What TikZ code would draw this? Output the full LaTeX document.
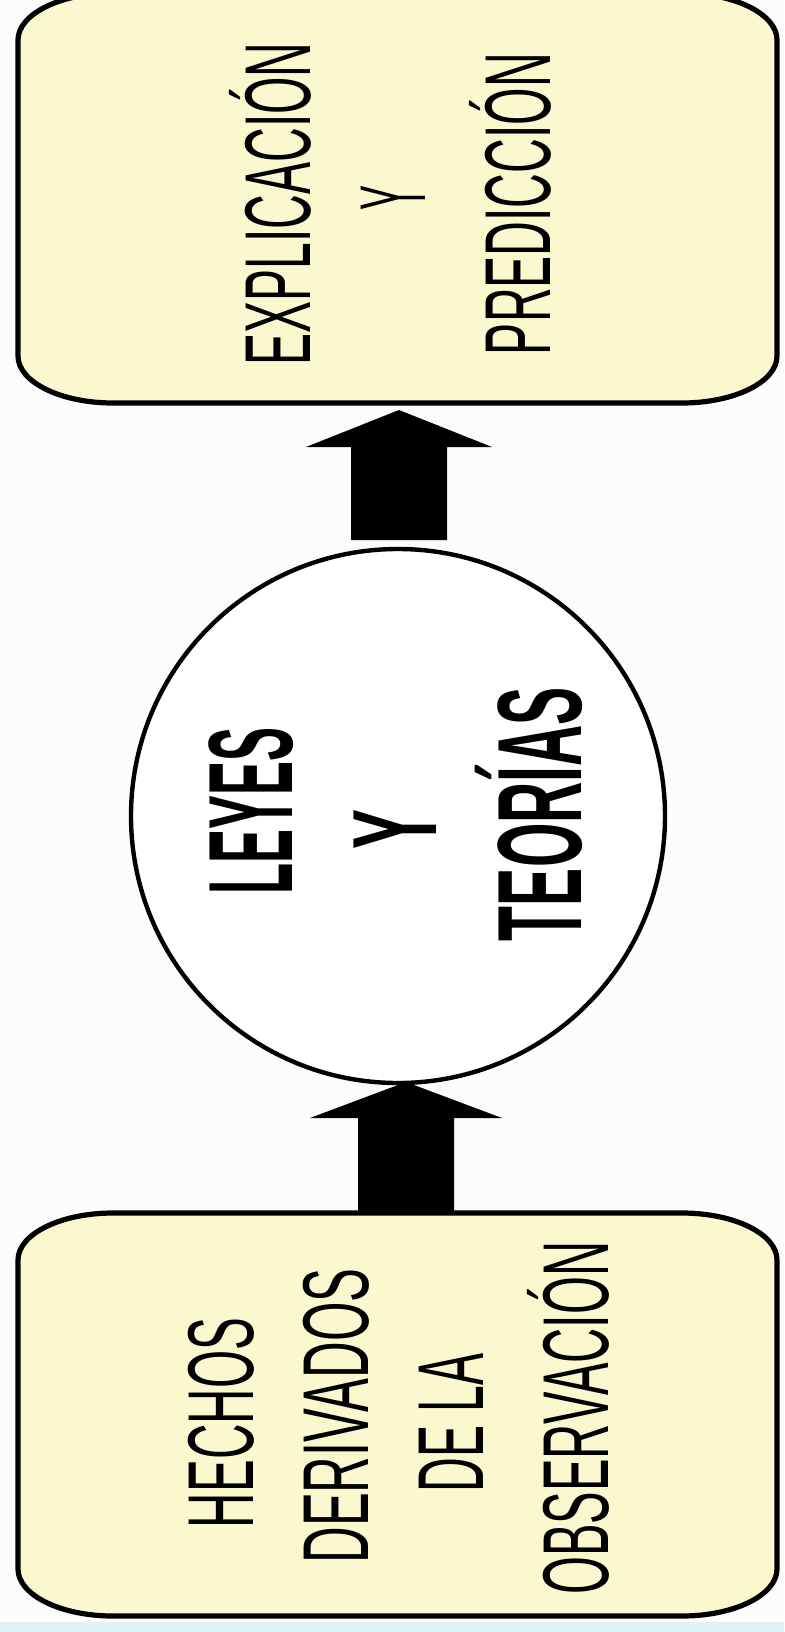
\documentclass[tikz,border=0pt]{standalone}
\usepackage{fontspec}
\setmainfont{Liberation Sans}
\usepackage{graphicx}
\definecolor{boxfill}{HTML}{FBF8CF}
\definecolor{bgcol}{HTML}{FCFCFC}
\definecolor{stripcol}{HTML}{DFF2F7}
\newcommand\sqz[2]{\resizebox{#1}{\height}{#2}}
\begin{document}
\begin{tikzpicture}[x=0.5pt,y=-0.5pt,
  lbl/.style={rotate=90,anchor=base,inner sep=0pt,font=\fontsize{46.8pt}{50pt}\selectfont},
  blbl/.style={rotate=90,anchor=base,inner sep=0pt,font=\fontsize{60pt}{64pt}\selectfont\bfseries},
  boxline/.style={line width=2.6pt,draw=black,fill=boxfill},
  corner/.style={x radius=47.5pt,y radius=23.5pt},
  bigarrow/.style={fill=black}]
\useasboundingbox (0,0) rectangle (784,1632);
\fill[bgcol] (0,0) rectangle (784,1632);
\fill[stripcol] (0,1622) rectangle (784,1632);
% top box (its top edge runs just above the picture)
\filldraw[boxline] (113,-7) -- (682,-7) arc[start angle=90,end angle=0,corner] -- (777,356)
  arc[start angle=0,end angle=-90,corner] -- (113,403)
  arc[start angle=270,end angle=180,corner] -- (18,40)
  arc[start angle=180,end angle=90,corner] -- cycle;
\coordinate (topS) at (398,403);
% bottom box
\filldraw[boxline] (113,1213) -- (682,1213) arc[start angle=90,end angle=0,corner] -- (777,1569)
  arc[start angle=0,end angle=-90,corner] -- (113,1616)
  arc[start angle=270,end angle=180,corner] -- (18,1260)
  arc[start angle=180,end angle=90,corner] -- cycle;
\coordinate (botN) at (398,1213);
% circle
\node[circle,draw,line width=2.2pt,fill=white,minimum size=267pt,inner sep=0pt] (circ) at (398,816) {};
% arrows
\fill[bigarrow] (399,410) -- (492,447) -- (447,447) -- (447,540) -- (351,540) -- (351,447) -- (306,447) -- cycle;
\fill[bigarrow] (406,1082) -- (502,1118) -- (454,1118) -- (454,1214) -- (358,1214) -- (358,1118) -- (310,1118) -- cycle;
% top texts
\node[lbl] (t1) at (310,204) {\sqz{161.5pt}{EXPLICACIÓN}};
\node[lbl] (t2) at (425,198) {\sqz{12.5pt}{Y}};
\node[lbl] (t3) at (550,204) {\sqz{151pt}{PREDICCIÓN}};
% circle texts
\node[blbl] (c1) at (292,811) {\sqz{83.5pt}{LEYES}};
\node[blbl] (c2) at (436,829) {\sqz{20pt}{Y}};
\node[blbl] (c3) at (581,814) {\sqz{127pt}{TEORÍAS}};
% bottom texts
\node[lbl] (b1) at (253,1423) {\sqz{105pt}{HECHOS}};
\node[lbl] (b2) at (368,1416) {\sqz{147.5pt}{DERIVADOS}};
\node[lbl] (b3) at (483,1423) {\sqz{69.5pt}{DE LA}};
\node[lbl] (b4) at (608,1418) {\sqz{176.5pt}{OBSERVACIÓN}};
\end{tikzpicture}
\end{document}
